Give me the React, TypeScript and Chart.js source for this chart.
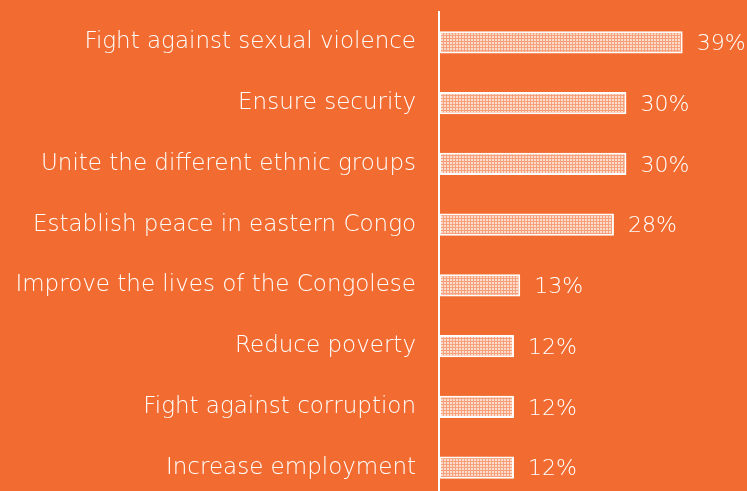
import React, { useEffect, useRef } from "react";
import { Chart, registerables } from "chart.js";

Chart.register(...registerables);

const categories = [
  "Fight against sexual violence",
  "Ensure security",
  "Unite the different ethnic groups",
  "Establish peace in eastern Congo",
  "Improve the lives of the Congolese",
  "Reduce poverty",
  "Fight against corruption",
  "Increase employment",
];
const values = [39, 30, 30, 28, 13, 12, 12, 12];
const valueLabels = ["39%", "30%", "30%", "28%", "13%", "12%", "12%", "12%"];

const BG = "#f26c31";
const FONT = "'DejaVu Sans', sans-serif";

function makePattern(ctx: CanvasRenderingContext2D) {
  const c = document.createElement("canvas");
  c.width = 3;
  c.height = 3;
  const p = c.getContext("2d")!;
  p.fillStyle = "#f6a07c";
  p.fillRect(0, 0, 3, 3);
  p.fillStyle = "#fcdccd";
  p.fillRect(0, 0, 2, 2);
  return ctx.createPattern(c, "repeat")!;
}

const valueLabelPlugin = {
  id: "valueLabels",
  afterDatasetsDraw(chart: any) {
    const ctx = chart.ctx;
    const meta = chart.getDatasetMeta(0);
    ctx.save();
    ctx.fillStyle = "#ffffff";
    ctx.font = `200 22px ${FONT}`;
    ctx.textAlign = "left";
    ctx.textBaseline = "middle";
    meta.data.forEach((bar: any, i: number) => {
      ctx.fillText(valueLabels[i], bar.x + 14, bar.y + 2);
    });
    ctx.restore();
  },
};

export default function App() {
  const ref = useRef<HTMLCanvasElement>(null);
  useEffect(() => {
    document.body.style.margin = "0";
    document.body.style.background = BG;
    const canvas = ref.current!;
    const ctx = canvas.getContext("2d")!;
    const pattern = makePattern(ctx);
    const chart = new Chart(ctx, {
      type: "bar",
      data: {
        labels: categories,
        datasets: [
          {
            data: values,
            backgroundColor: pattern as any,
            borderColor: "#ffffff",
            borderWidth: 2,
            borderSkipped: false,
            barPercentage: 0.37,
            categoryPercentage: 1,
          },
        ],
      },
      options: {
        indexAxis: "y",
        animation: false,
        responsive: false,
        maintainAspectRatio: false,
        layout: { padding: { top: 12, bottom: 2, right: 0, left: 0 } },
        plugins: {
          legend: { display: false },
          tooltip: { enabled: false },
        },
        scales: {
          x: {
            display: false,
            min: 0,
            max: 49.3,
          },
          y: {
            grid: { display: false, drawTicks: false },
            border: { display: true, color: "#ffffff", width: 2 },
            ticks: {
              color: "#ffffff",
              padding: 23,
              font: { family: FONT, size: 23, weight: "200" as any },
            },
            afterFit: (scale: any) => {
              scale.paddingTop = 0;
              scale.paddingBottom = 0;
              scale.width = 439;
            },
          },
        },
      },
      plugins: [valueLabelPlugin],
    });
    return () => chart.destroy();
  }, []);
  return (
    <div style={{ position: "absolute", left: 0, top: 0, width: 747, height: 500, background: BG }}>
      <canvas ref={ref} width={747} height={500} style={{ display: "block" }} />
    </div>
  );
}
